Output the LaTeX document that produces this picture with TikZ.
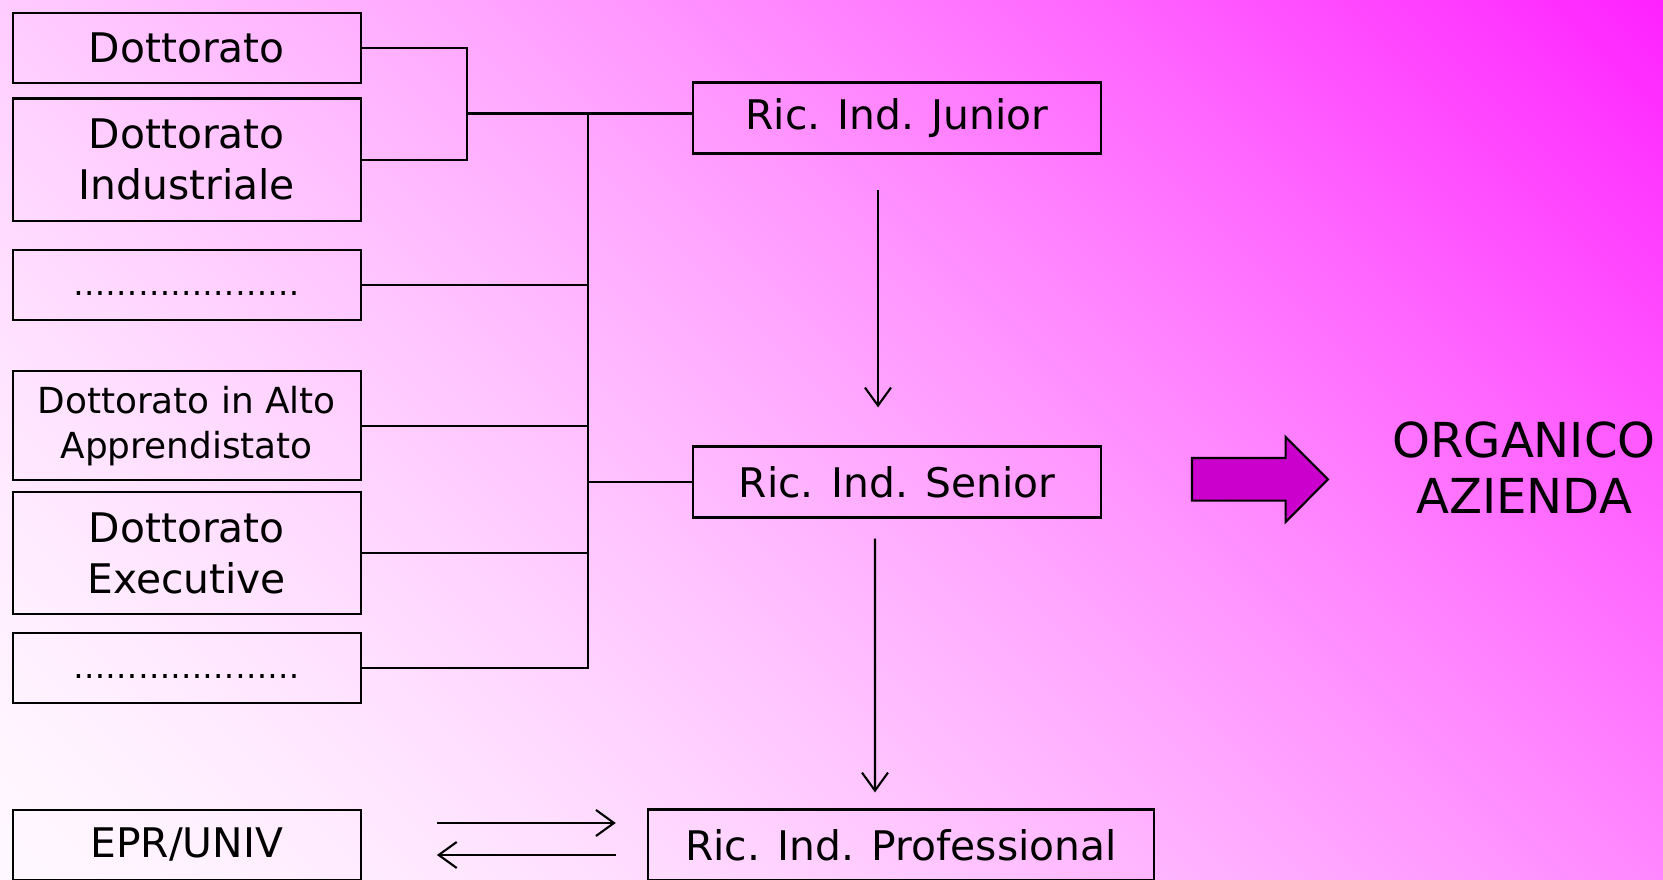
\documentclass[tikz,border=0pt]{standalone}
\usepackage{fontspec}
\setmainfont{DejaVu Sans}
\usetikzlibrary{arrows.meta}

\definecolor{arrowmag}{RGB}{204,0,204}

% diagonal background, light in the lower left, magenta in the upper right
\pgfdeclarefunctionalshading{bgshade}{\pgfpoint{0cm}{0cm}}{\pgfpoint{16.83cm}{9.0cm}}{}{%
  add 5.67 sub 720.85 div abs 1.5 exp 0.84 mul 0.97 exch sub 1 exch 1}

\tikzset{
  box/.style={draw, line width=0.6pt, minimum width=3.48cm, minimum height=0.7cm,
    inner sep=0pt, align=center, font=\fontsize{11.6pt}{14.5pt}\selectfont},
  link/.style={line width=0.6pt},
  arr/.style={line width=0.6pt, -{Straight Barb[length=1.8mm, width=2.6mm]}}
}

\begin{document}
\begin{tikzpicture}[x=0.01cm, y=-0.01cm]
  \useasboundingbox (0,0) rectangle (1663,880);
  \node[inner sep=0pt] (bg) at (831.5,440) {\pgfuseshading{bgshade}};

  % left column
  \node[box] (dott) at (186.7,47.7) {Dottorato};
  \node[box, minimum height=1.22cm] (dind) at (186.7,159.6) {Dottorato\\Industriale};
  \node[box] (dots1) at (186.7,285.3) {\vphantom{Dg}\fontsize{9.2pt}{11pt}\selectfont …………………};
  \node[box, minimum height=1.09cm, font=\fontsize{10.2pt}{12.7pt}\selectfont] (dalto) at (186.7,425.8) {Dottorato in Alto\\Apprendistato};
  \node[box, minimum height=1.22cm] (dexe) at (186.7,553) {Dottorato\\Executive};
  \node[box] (dots2) at (186.7,668) {\vphantom{Dg}\fontsize{9.2pt}{11pt}\selectfont …………………};
  \node[box] (epr) at (186.7,845) {EPR/UNIV};

  % right column
  \node[box, minimum width=4.07cm, minimum height=0.71cm] (junior) at (897,118) {Ric. Ind. Junior};
  \node[box, minimum width=4.07cm, minimum height=0.71cm] (senior) at (897,482) {Ric. Ind. Senior};
  \node[box, minimum width=5.06cm, minimum height=0.71cm] (prof) at (901,845) {Ric. Ind. Professional};
  \node[font=\fontsize{13.7pt}{15.9pt}\selectfont, align=center] (org) at (1524,468) {ORGANICO\\AZIENDA};

  % block arrow
  \draw[line width=0.6pt, fill=arrowmag] (1192,458) -- (1285.6,458) -- (1285.6,437) -- (1328,479.4)
    -- (1285.6,522) -- (1285.6,500.6) -- (1192,500.6) -- cycle;

  % tree lines
  \coordinate (brk) at (466.7,113.5);
  \coordinate (trk) at (587.6,113.5);
  \draw[link] (dott.east) -| (brk) |- (dind.east);
  \draw[link] (brk) -- (brk -| junior.west);
  \draw[link] (trk) |- (dots2.east);
  \foreach \b in {dots1, dalto, dexe}
    \draw[link] (\b.east) -- (\b.east -| trk);
  \draw[link] (senior.west) -- (senior.west -| trk);

  % arrows
  \draw[arr, shorten <=0.35cm, shorten >=0.38cm] ([xshift=-0.19cm]junior.south) -- ([xshift=-0.19cm]senior.north);
  \draw[arr, shorten <=0.2cm, shorten >=0.16cm] ([xshift=-0.22cm]senior.south) -- ([xshift=-0.26cm]prof.north);
  \draw[arr, shorten <=0.75cm, shorten >=0.31cm] ([yshift=0.22cm]epr.east) -- ([yshift=0.22cm]prof.west);
  \draw[arr, shorten <=0.31cm, shorten >=0.75cm] ([yshift=-0.1cm]prof.west) -- ([yshift=-0.1cm]epr.east);
\end{tikzpicture}
\end{document}
